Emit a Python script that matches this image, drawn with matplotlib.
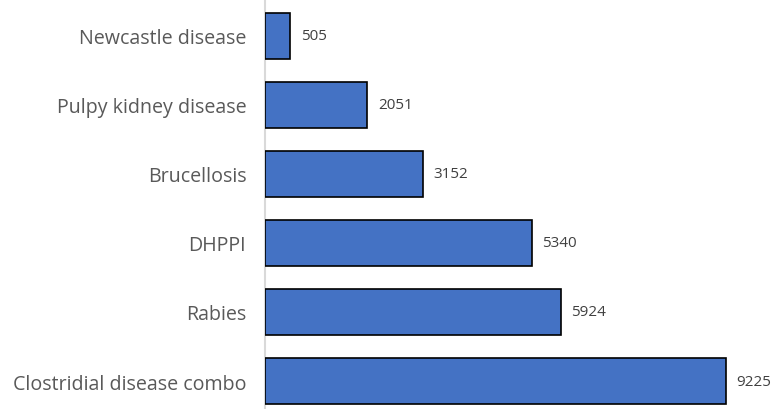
import matplotlib
matplotlib.use("Agg")
import matplotlib.pyplot as plt

categories = ["Newcastle disease", "Pulpy kidney disease", "Brucellosis", "DHPPI", "Rabies", "Clostridial disease combo"]
values = [505, 2051, 3152, 5340, 5924, 9225]

plt.rcParams['font.family'] = ['Open Sans', 'DejaVu Sans']

fig = plt.figure(figsize=(7.73, 4.10), dpi=100)
ax = fig.add_axes([265/773, -0.016, (764.7-265)/773, 1.013 - 1.0/410])
y = list(range(len(categories)))
ax.barh(y, values, height=0.67, color="#4472C4", edgecolor="black", linewidth=1.2, zorder=3)
ax.set_ylim(len(categories) - 0.5, -0.5)
ax.set_xlim(0, 10000)
ax.set_yticks(y)
ax.set_yticklabels(categories, fontsize=14.1, color="#595959")
ax.tick_params(axis='y', length=0, pad=13.5)
ax.set_xticks([])
for s in ["top", "right", "bottom"]:
    ax.spines[s].set_visible(False)
ax.spines["left"].set_color("#D9D9D9")
ax.spines["left"].set_linewidth(1.5)
for yi, v in zip(y, values):
    ax.text(v + 210, yi, str(v), va="center", ha="left", fontsize=11, color="#404040")
fig.savefig("out.png", dpi=100)
